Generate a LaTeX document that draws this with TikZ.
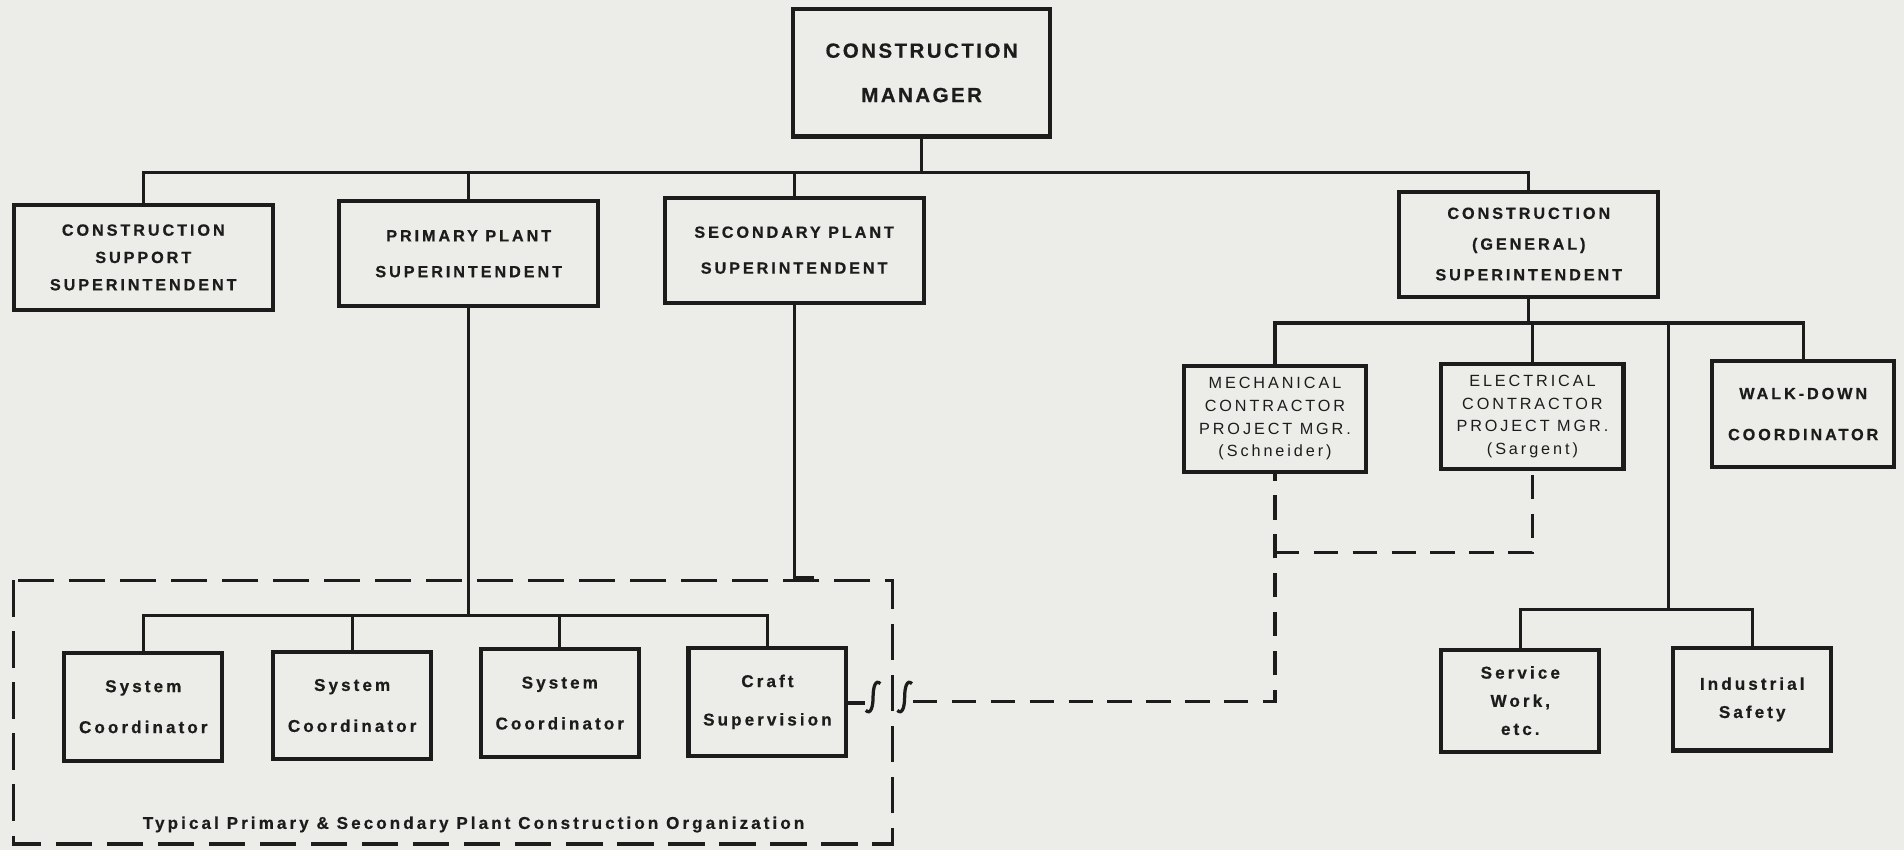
\documentclass[tikz,border=0pt]{standalone}
\usepackage{fontspec}
\usepackage{tikz}
\newfontfamily\chartfont{Liberation Sans}[LetterSpace=18, BoldFeatures={FakeBold=0.6}]
\definecolor{paper}{HTML}{ECECE8}
\definecolor{ink}{HTML}{1C1C1C}

\begin{document}
\begin{tikzpicture}[x=0.025cm, y=-0.025cm, color=ink,
    box/.style={draw, line width=2.4pt, align=center, inner sep=1pt},
    topbox/.style={box, minimum width=5.3cm, minimum height=2.62cm,
        font=\chartfont\bfseries\addfontfeature{LetterSpace=12}\fontsize{12}{26}\selectfont},
    supbox/.style={box, minimum width=5.33cm, minimum height=2.16cm,
        font=\chartfont\bfseries\fontsize{9.5}{21}\selectfont},
    pmbox/.style={box, minimum width=3.75cm, minimum height=2.17cm,
        font=\chartfont\fontsize{9.5}{13.3}\selectfont},
    sysbox/.style={box, minimum width=3.25cm, minimum height=2.22cm,
        font=\chartfont\bfseries\fontsize{10}{24}\selectfont},
    fieldbox/.style={box, minimum width=3.25cm, minimum height=2.1cm,
        font=\chartfont\bfseries\fontsize{10}{16.5}\selectfont},
    link/.style={line width=1.9pt},
    linkdash/.style={line width=1.9pt, dash pattern=on 0.5cm off 0.3cm},
    boxdash/.style={line width=2pt, dash pattern=on 0.75cm off 0.3cm}]

    \fill[paper] (0,0) rectangle (1568,700);

    \node[topbox] (mgr) at (759,60) {CONSTRUCTION\\MANAGER};

    \node[supbox, font=\chartfont\bfseries\fontsize{9.5}{16}\selectfont] (support) at (118,212)
        {CONSTRUCTION\\SUPPORT\\SUPERINTENDENT};
    \node[supbox] (primary) at (386,209) {PRIMARY PLANT\\SUPERINTENDENT};
    \node[supbox] (secondary) at (654,206) {SECONDARY PLANT\\SUPERINTENDENT};
    \node[supbox, font=\chartfont\bfseries\fontsize{9.5}{18}\selectfont] (general) at (1259,201)
        {CONSTRUCTION\\(GENERAL)\\SUPERINTENDENT};

    \node[pmbox] (mech) at (1050,345) {MECHANICAL\\CONTRACTOR\\PROJECT MGR.\\(Schneider)};
    \node[pmbox] (elec) at (1262,343) {ELECTRICAL\\CONTRACTOR\\PROJECT MGR.\\(Sargent)};
    \node[pmbox, font=\chartfont\bfseries\fontsize{9.5}{24}\selectfont] (walkdown) at (1485,341)
        {WALK-DOWN\\COORDINATOR};

    \node[sysbox] (sys1) at (118,582) {System\\Coordinator};
    \node[sysbox] (sys2) at (290,581) {System\\Coordinator};
    \node[sysbox] (sys3) at (461,579) {System\\Coordinator};
    \node[sysbox, font=\chartfont\bfseries\fontsize{10}{22.5}\selectfont] (craft) at (632,578)
        {Craft\\Supervision};

    \node[fieldbox] (service) at (1252,577) {Service\\Work,\\etc.};
    \node[fieldbox] (safety) at (1443,576) {Industrial\\Safety};

    \node[font=\chartfont\bfseries\fontsize{10}{12}\selectfont] (typical) at (390,679)
        {Typical Primary \& Secondary Plant Construction Organization};

    \coordinate (topbus) at (759,142);
    \coordinate (sysbus) at (386,507);
    \coordinate (secend) at (670,476);
    \coordinate (genbus) at (1259,266);
    \coordinate (fieldtop) at (1374,266);
    \coordinate (fieldbus) at (1374,502);
    \coordinate (cut1) at (719,574);
    \coordinate (cut2) at (745,574);
    \coordinate (cutstart) at (712,579);
    \coordinate (cutend) at (752,578);
    \coordinate (elecjoin) at (1050,455);

    \draw[link] (mgr) -- (topbus);
    \draw[link] (support) |- (topbus) -| (general);
    \draw[link] (primary) -- (primary |- topbus);
    \draw[link] (secondary) -- (secondary |- topbus);

    \draw[link] (primary) -- (sysbus);
    \draw[link] (sys1) |- (sysbus) -| (craft);
    \draw[link] (sys2) -- (sys2 |- sysbus);
    \draw[link] (sys3) -- (sys3 |- sysbus);
    \draw[link] (secondary) |- (secend);

    \draw[link] (general) -- (genbus);
    \draw[link] (mech) |- (genbus) -| (walkdown);
    \draw[link] (elec) -- (elec |- genbus);
    \draw[link] (fieldtop) -- (fieldbus);
    \draw[link] (service) |- (fieldbus) -| (safety);

    \draw[boxdash] (11,478) rectangle (735,695);

    \draw[link] (craft.east |- cutstart) -- (cutstart);
    \foreach \c in {cut1,cut2}
        \draw[link] ([shift={(6,-11)}]\c) .. controls ([shift={(2,-15)}]\c) and ([shift={(0,-8)}]\c) .. (\c)
            .. controls ([shift={(0,8)}]\c) and ([shift={(-2,15)}]\c) .. ([shift={(-6,11)}]\c);
    \draw[linkdash] (cutend) -| (mech);
    \draw[linkdash] (elecjoin) -| (elec);
\end{tikzpicture}
\end{document}
